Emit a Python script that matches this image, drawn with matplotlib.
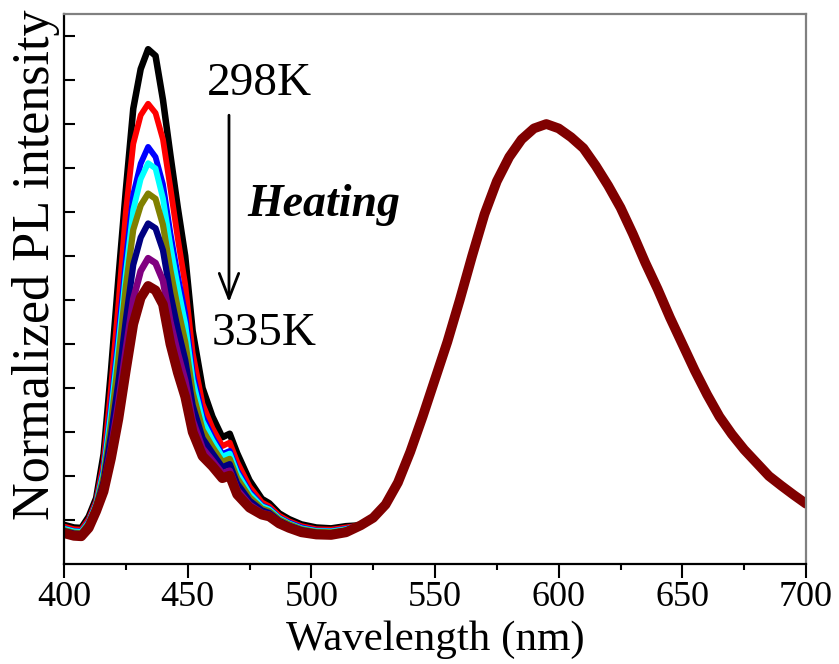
#!/usr/bin/env python3
"""Temperature dependent PL spectra (298K -> 335K), normalized at the 600 nm band."""

import matplotlib

matplotlib.use("Agg")
import matplotlib.pyplot as plt
from matplotlib.ticker import MultipleLocator


# wavelength grid of the blue band (nm)
WL_BLUE = [400, 404, 407, 410, 413, 416, 419, 422, 425, 428, 431, 434, 437, 440, 443, 446,
           449, 452, 456, 460, 464, 467, 470, 475, 480, 483, 487, 491, 496, 502, 508, 514]

# blue band, one list per temperature (298K first, 335K last)
BLACK = [0.089, 0.083, 0.082, 0.108, 0.150, 0.250, 0.440, 0.650, 0.850, 1.035, 1.125, 1.170,
         1.155, 1.055, 0.930, 0.810, 0.700, 0.530, 0.400, 0.335, 0.288, 0.296, 0.252, 0.190,
         0.148, 0.138, 0.115, 0.102, 0.090, 0.083, 0.081, 0.086]
RED = [0.085, 0.079, 0.078, 0.102, 0.143, 0.230, 0.400, 0.590, 0.800, 0.955, 1.020, 1.046,
       1.025, 0.965, 0.855, 0.740, 0.635, 0.480, 0.364, 0.309, 0.268, 0.276, 0.232, 0.176,
       0.140, 0.131, 0.110, 0.097, 0.086, 0.079, 0.078, 0.083]
BLUE = [0.081, 0.075, 0.074, 0.097, 0.138, 0.215, 0.357, 0.518, 0.690, 0.840, 0.910, 0.948,
        0.925, 0.863, 0.752, 0.655, 0.568, 0.435, 0.336, 0.288, 0.250, 0.257, 0.213, 0.164,
        0.133, 0.126, 0.105, 0.094, 0.083, 0.076, 0.075, 0.080]
CYAN = [0.080, 0.074, 0.073, 0.095, 0.136, 0.209, 0.344, 0.496, 0.660, 0.805, 0.875, 0.911,
        0.899, 0.831, 0.723, 0.630, 0.546, 0.419, 0.325, 0.281, 0.244, 0.251, 0.207, 0.160,
        0.131, 0.124, 0.104, 0.092, 0.081, 0.075, 0.074, 0.079]
OLIVE = [0.077, 0.071, 0.070, 0.092, 0.132, 0.198, 0.318, 0.465, 0.630, 0.760, 0.815, 0.842,
         0.830, 0.771, 0.668, 0.581, 0.505, 0.390, 0.305, 0.266, 0.232, 0.239, 0.195, 0.152,
         0.126, 0.120, 0.101, 0.090, 0.079, 0.073, 0.072, 0.077]
NAVY = [0.075, 0.069, 0.068, 0.089, 0.128, 0.187, 0.293, 0.414, 0.555, 0.680, 0.742, 0.774,
        0.763, 0.713, 0.614, 0.534, 0.464, 0.361, 0.286, 0.252, 0.220, 0.227, 0.183, 0.144,
        0.122, 0.116, 0.098, 0.087, 0.077, 0.071, 0.070, 0.076]
PURPLE = [0.072, 0.066, 0.065, 0.085, 0.124, 0.175, 0.263, 0.367, 0.488, 0.602, 0.666, 0.695,
          0.684, 0.644, 0.550, 0.479, 0.417, 0.327, 0.263, 0.235, 0.206, 0.212, 0.169, 0.135,
          0.116, 0.112, 0.095, 0.084, 0.074, 0.069, 0.068, 0.074]
MAROON = [0.070, 0.064, 0.063, 0.082, 0.120, 0.165, 0.240, 0.330, 0.440, 0.545, 0.605, 0.632,
          0.622, 0.590, 0.500, 0.435, 0.380, 0.300, 0.245, 0.222, 0.195, 0.201, 0.158, 0.128,
          0.112, 0.108, 0.092, 0.082, 0.072, 0.067, 0.066, 0.072]

# orange band, the same for all temperatures
WL_ORANGE = list(range(520, 701, 5))
ORANGE = [0.088, 0.105, 0.135, 0.185, 0.255, 0.335, 0.420, 0.505, 0.600, 0.700, 0.795, 0.870,
          0.925, 0.965, 0.990, 1.000, 0.990, 0.970, 0.945, 0.905, 0.860, 0.810, 0.750, 0.685,
          0.625, 0.560, 0.500, 0.440, 0.385, 0.335, 0.295, 0.260, 0.230, 0.200, 0.178, 0.157,
          0.137]

SERIES = [
    (BLACK, "#000000", 4.7),
    (RED, "#ff0000", 4.2),
    (BLUE, "#0000ff", 4.2),
    (CYAN, "#00ffff", 4.2),
    (OLIVE, "#808000", 4.5),
    (NAVY, "#000080", 4.5),
    (PURPLE, "#800080", 4.8),
    (MAROON, "#800000", 7.0),
]


def setup_plot_style() -> None:
    plt.rcParams["font.family"] = ["Liberation Serif", "DejaVu Serif"]
    plt.rcParams["figure.dpi"] = 100


def render() -> None:
    setup_plot_style()
    fig = plt.figure(figsize=(8.39, 6.64))
    ax = fig.add_axes([0.0763, 0.1506, 0.8844, 0.8283])

    for values, color, lw in SERIES:
        ax.plot(WL_BLUE + WL_ORANGE, values + ORANGE, color=color, lw=lw,
                solid_joinstyle="round", solid_capstyle="round")

    ax.set_xlim(400, 700)
    ax.set_ylim(0, 1.25)
    ax.xaxis.set_major_locator(MultipleLocator(50))
    ax.xaxis.set_minor_locator(MultipleLocator(25))
    ax.set_yticks([v / 10 for v in range(1, 13)])

    ax.tick_params(axis="x", which="major", direction="out", length=10, width=1.5,
                   labelsize=26, pad=2, top=False)
    ax.tick_params(axis="x", which="minor", direction="out", length=4.5, width=1.5, top=False)
    ax.tick_params(axis="y", which="major", direction="in", length=8, width=1.5,
                   labelleft=False, right=False)

    for side in ["left", "bottom"]:
        ax.spines[side].set_linewidth(1.6)
        ax.spines[side].set_color("black")
    for side in ["top", "right"]:
        ax.spines[side].set_linewidth(1.6)
        ax.spines[side].set_color("#808080")

    ax.set_xlabel("Wavelength (nm)", fontsize=31, labelpad=5)
    ax.set_ylabel("Normalized PL intensity", fontsize=37.5)
    ax.yaxis.set_label_coords(-0.006, 0.544)

    ax.annotate("", xy=(466.7, 0.595), xytext=(466.7, 1.02),
                arrowprops=dict(arrowstyle="->,head_length=0.9,head_width=0.35",
                                mutation_scale=20, lw=2, color="black",
                                shrinkA=0, shrinkB=0))
    ax.text(457.8, 1.066, "298K", fontsize=34, va="baseline")
    ax.text(459.8, 0.498, "335K", fontsize=34, va="baseline")
    ax.text(474.1, 0.79, "Heating", fontsize=33, fontweight="bold", fontstyle="italic",
            va="baseline")

    fig.savefig("out.png", dpi=100)
    plt.close(fig)


def main() -> None:
    render()


if __name__ == "__main__":
    main()
